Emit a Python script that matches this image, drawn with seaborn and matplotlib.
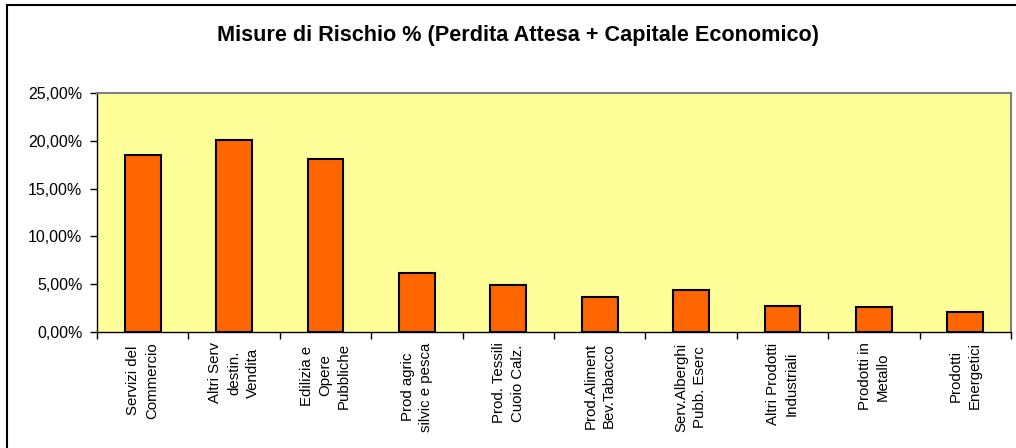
import matplotlib
matplotlib.use("Agg")
import matplotlib.pyplot as plt
import seaborn as sns
import numpy as np
from matplotlib.lines import Line2D
from matplotlib.ticker import FuncFormatter, FixedLocator

categories = [
    "Servizi del\nCommercio",
    "Altri Serv\ndestin.\nVendita",
    "Edilizia e\nOpere\nPubbliche",
    "Prod agric\nsilvic e pesca",
    "Prod. Tessili\nCuoio Calz.",
    "Prod.Aliment\nBev.Tabacco",
    "Serv.Alberghi\nPubb. Eserc",
    "Altri Prodotti\nIndustriali",
    "Prodotti in\nMetallo",
    "Prodotti\nEnergetici",
]
values = [18.5, 20.08, 18.1, 6.14, 4.92, 3.63, 4.39, 2.75, 2.65, 2.12]
y_ticks = [0, 5, 10, 15, 20, 25]
title = "Misure di Rischio % (Perdita Attesa + Capitale Economico)"

sns.set_theme(style="white")
plt.rcParams['font.family'] = ['Liberation Sans', 'DejaVu Sans']

fig = plt.figure(figsize=(10.16, 4.48), dpi=100)
fig.patch.set_facecolor("white")
ax = fig.add_axes([97/1016, (448-332)/448, (1011-97)/1016, (332-93)/448])
ax.set_facecolor("#FFFF99")

x_idx = list(range(len(categories)))
sns.barplot(x=x_idx, y=values, color="#FF6600", edgecolor="black",
            linewidth=1.5, width=0.39, saturation=1, ax=ax, zorder=3)

ax.set_xlim(-0.5, len(categories) - 0.5)
ax.set_ylim(0, 25)
ax.yaxis.set_major_locator(FixedLocator(y_ticks))
ax.yaxis.set_major_formatter(FuncFormatter(lambda v, p: f"{v:.2f}".replace(".", ",") + "%"))
ax.tick_params(axis="y", which="major", direction="out", length=5, width=1,
               color="black", pad=5.5, labelsize=11.5, left=True, labelcolor="black")

ax.set_xticks(x_idx)
ax.set_xticklabels(categories, rotation=90, ha="center", va="top",
                   multialignment="center", fontsize=10.8, color="black",
                   linespacing=1.42)
ax.tick_params(axis="x", which="major", length=0, pad=7.5)
ax.set_xticks(np.arange(-0.5, len(categories), 1.0), minor=True)
ax.tick_params(axis="x", which="minor", direction="out", length=5, width=1,
               color="black", bottom=True)

for s in ["left", "bottom"]:
    ax.spines[s].set_color("black")
    ax.spines[s].set_linewidth(1.0)
for s in ["top", "right"]:
    ax.spines[s].set_color("#808080")
    ax.spines[s].set_linewidth(1.5)
    ax.spines[s].set_visible(True)
ax.set_xlabel("")
ax.set_ylabel("")

fig.text(518/1016, 1 - 36/448, title, ha="center", va="center",
         fontsize=15.6, fontweight="bold", color="black")

# outer chart frame (left and top edges visible)
fig.add_artist(Line2D([6.5/1016, 6.5/1016], [0, 1 - 5.5/448], transform=fig.transFigure,
                      color="black", linewidth=1.5))
fig.add_artist(Line2D([6.5/1016, 1], [1 - 5.5/448, 1 - 5.5/448], transform=fig.transFigure,
                      color="black", linewidth=1.5))

fig.savefig("out.png", dpi=100, facecolor="white")
